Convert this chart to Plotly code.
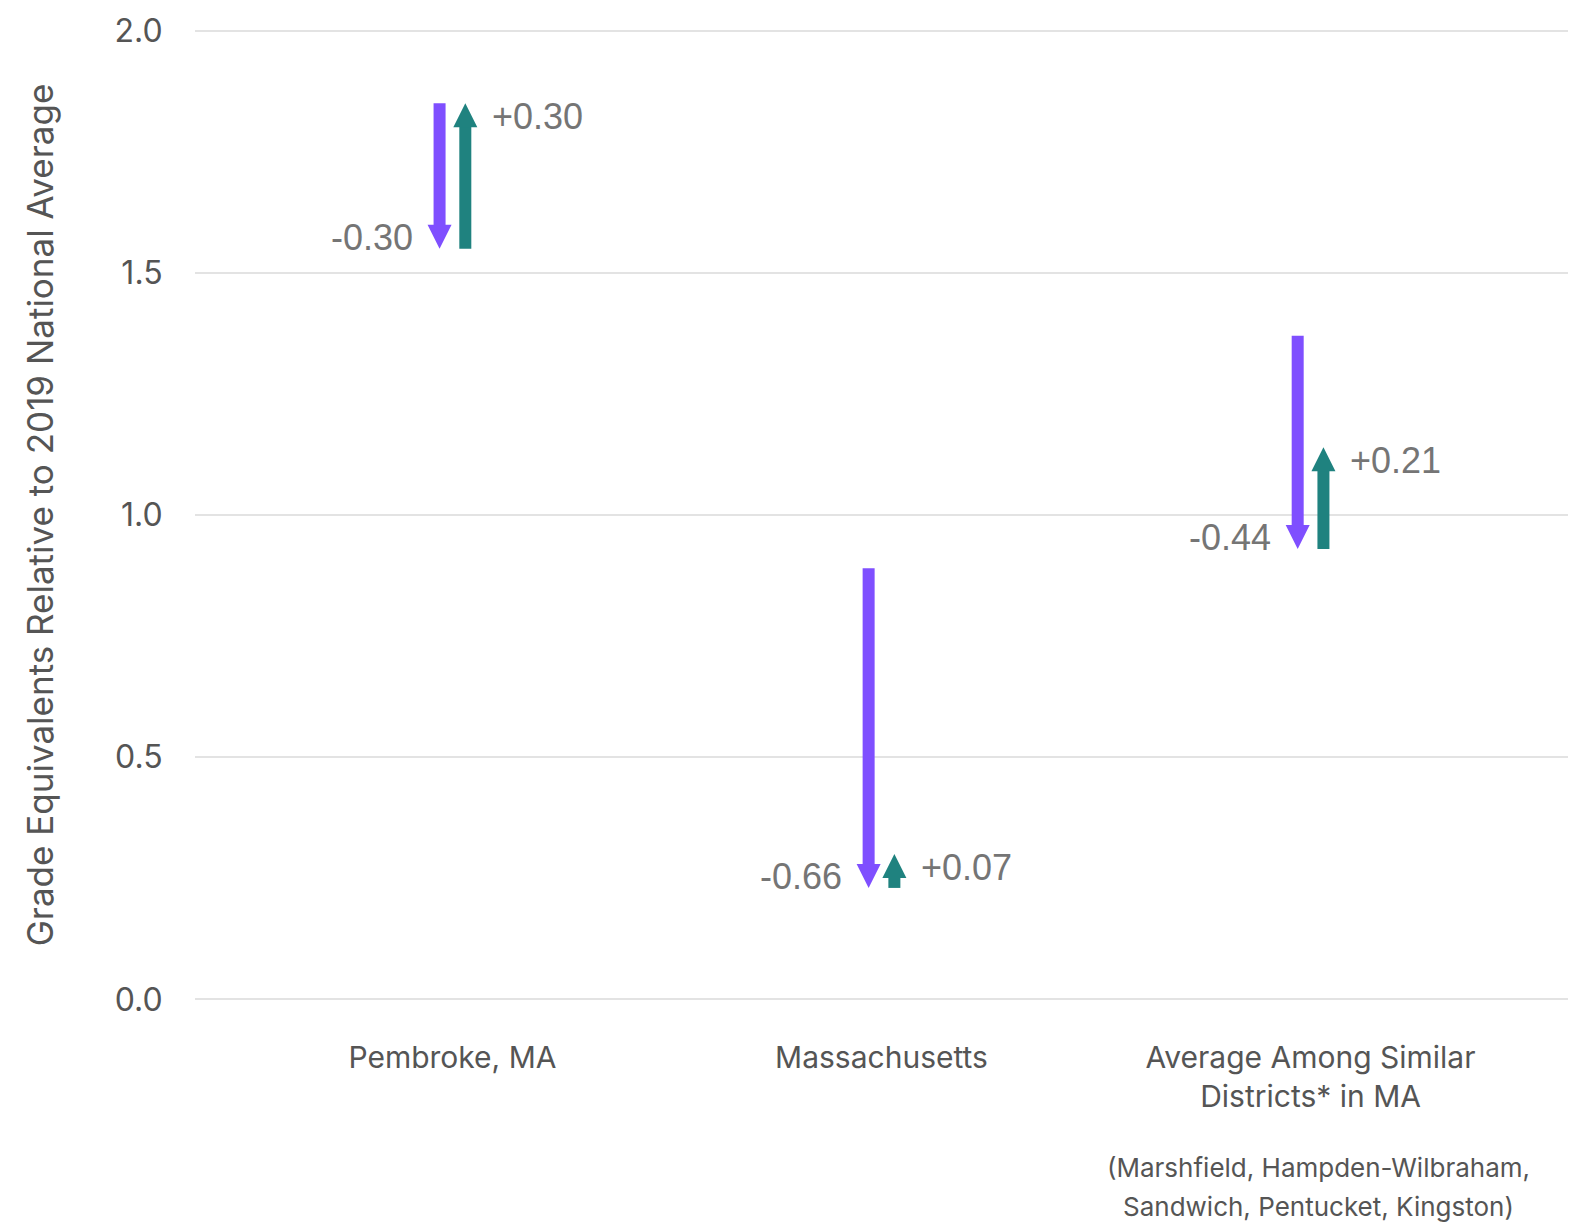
import plotly.graph_objects as go

categories = ["Pembroke, MA", "Massachusetts", "Average Among Similar<br>Districts* in MA"]
start_2019 = [1.85, 0.89, 1.37]
decline = [-0.30, -0.66, -0.44]
recovery = [0.30, 0.07, 0.21]
y_ticks = [0.0, 0.5, 1.0, 1.5, 2.0]
footnote = ["(Marshfield, Hampden-Wilbraham,", "Sandwich, Pentucket, Kingston)"]

PURPLE = "#7F4FFF"
TEAL = "#1F827F"
OFF = 0.03
AX_FONT = "Inter, Roboto, sans-serif"
VAL_FONT = "Liberation Sans, Arial, sans-serif"

W, H = 1560, 1215          # page has an 8px body margin
ML, MR, MT, MB = 187, 0, 13, 214

fig = go.Figure()
annotations = []
for i, cat in enumerate(categories):
    s = start_2019[i]
    low = s + decline[i]
    high = low + recovery[i]
    fig.add_trace(go.Scatter(
        x=[i - OFF, i - OFF], y=[s, low], mode="lines+markers",
        line=dict(color=PURPLE, width=12, backoff=14),
        marker=dict(symbol="arrow-down", size=[0, 24], color=PURPLE, opacity=1, line=dict(width=0)),
        showlegend=False, hoverinfo="skip"))
    fig.add_trace(go.Scatter(
        x=[i + OFF, i + OFF], y=[low, high], mode="lines+markers",
        line=dict(color=TEAL, width=12, backoff=14),
        marker=dict(symbol="arrow-up", size=[0, 24], color=TEAL, opacity=1, line=dict(width=0)),
        showlegend=False, hoverinfo="skip"))
    annotations.append(dict(
        x=i - OFF, y=low, xref="x", yref="y", text=f"{decline[i]:+.2f}",
        showarrow=False, xanchor="right", yanchor="middle", xshift=-25, yshift=11,
        font=dict(family=VAL_FONT, size=36, color="#757575")))
    annotations.append(dict(
        x=i + OFF, y=high, xref="x", yref="y", text=f"{recovery[i]:+.2f}",
        showarrow=False, xanchor="left", yanchor="middle", xshift=25, yshift=-13,
        font=dict(family=VAL_FONT, size=36, color="#757575")))

plot_w = W - ML - MR
plot_h = H - MT - MB
for k, line in enumerate(footnote):
    px = 1318 - 8
    py = 1167 + 39 * k - 8
    annotations.append(dict(
        x=(px - ML) / plot_w, y=1 - (py - MT) / plot_h, xref="paper", yref="paper",
        yanchor="middle", xanchor="center", text=line, showarrow=False,
        font=dict(family=AX_FONT, size=26, color="#555555")))

fig.update_layout(
    width=W, height=H,
    margin=dict(l=ML, r=MR, t=MT, b=MB),
    plot_bgcolor="white", paper_bgcolor="white",
    xaxis=dict(range=[-0.6, 2.6], tickvals=list(range(len(categories))), ticktext=categories,
               showgrid=False, zeroline=False, showline=False,
               ticks="outside", ticklen=22, tickcolor="rgba(0,0,0,0)",
               tickfont=dict(family=AX_FONT, size=30, color="#555555")),
    yaxis=dict(range=[-0.02, 2.02], tickvals=y_ticks, ticktext=[f"{v:.1f}" for v in y_ticks],
               showgrid=True, gridcolor="#E3E3E3", gridwidth=2, zeroline=False, showline=False,
               ticks="outside", ticklen=25, tickcolor="rgba(0,0,0,0)",
               tickfont=dict(family=AX_FONT, size=32, color="#555555"),
               title=dict(text="Grade Equivalents Relative to 2019 National Average",
                          font=dict(family=AX_FONT, size=35, color="#555555"), standoff=50)),
    annotations=annotations,
)

fig.write_html("out.html")
